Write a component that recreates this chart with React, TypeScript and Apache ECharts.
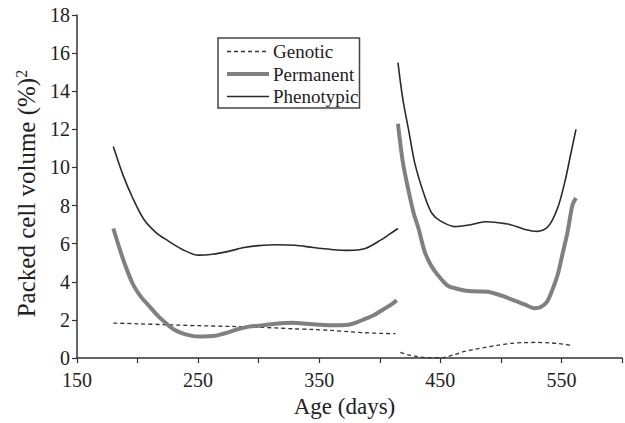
import React, { useEffect, useRef } from "react";
import * as echarts from "echarts";

// Variance components of packed cell volume by age, [age in days, variance]
const genoticEarly: [number, number][] = [
  [180, 1.84], [200, 1.8], [224, 1.75], [250, 1.7], [278, 1.66], [300, 1.62],
  [328, 1.54], [345, 1.5], [360, 1.45], [375, 1.38], [388, 1.33], [400, 1.3], [413, 1.28],
];
const genoticLate: [number, number][] = [
  [417, 0.3], [423, 0.18], [429, 0.1], [440, 0.02], [451, 0.02], [460, 0.15],
  [470, 0.35], [478, 0.46], [487, 0.56], [497, 0.67], [508, 0.77], [518, 0.81],
  [530, 0.82], [540, 0.8], [547, 0.77], [553, 0.72], [558, 0.67],
];
const permanentEarly: [number, number][] = [
  [180, 6.8], [188, 5.2], [196, 3.9], [203, 3.2], [210, 2.7], [217, 2.2], [224, 1.8],
  [230, 1.5], [237, 1.3], [244, 1.18], [251, 1.13], [258, 1.14], [265, 1.18],
  [275, 1.35], [284, 1.54], [292, 1.65], [300, 1.7], [314, 1.8], [328, 1.85],
  [340, 1.8], [350, 1.75], [360, 1.72], [374, 1.75], [382, 1.9], [388, 2.06],
  [395, 2.25], [401, 2.48], [408, 2.75], [414, 3.03],
];
const permanentLate: [number, number][] = [
  [415, 12.3], [419, 10.3], [423, 9.0], [428, 7.6], [432, 6.8], [437, 5.6],
  [442, 4.9], [448, 4.35], [456, 3.8], [463, 3.65], [470, 3.55], [480, 3.5],
  [489, 3.48], [497, 3.35], [503, 3.22], [512, 3.0], [520, 2.8], [528, 2.62],
  [533, 2.68], [538, 2.95], [542, 3.5], [547, 4.4], [551, 5.5], [555, 6.6],
  [559, 8.0], [562, 8.4],
];
const phenotypicEarly: [number, number][] = [
  [180, 11.1], [188, 9.6], [196, 8.4], [205, 7.3], [215, 6.6], [224, 6.2],
  [237, 5.7], [250, 5.4], [262, 5.45], [275, 5.6], [288, 5.8], [300, 5.9],
  [315, 5.95], [330, 5.92], [345, 5.8], [360, 5.7], [374, 5.65], [388, 5.75],
  [401, 6.2], [408, 6.5], [415, 6.8],
];
const phenotypicLate: [number, number][] = [
  [415, 15.5], [419, 13.6], [424, 11.9], [429, 10.2], [437, 8.5], [443, 7.6],
  [450, 7.2], [462, 6.9], [475, 7.0], [487, 7.15], [498, 7.1], [508, 7.0],
  [520, 6.75], [530, 6.65], [539, 6.9], [547, 7.9], [553, 9.3], [558, 10.8],
  [562, 12.0],
];

const seriesNames = ["Genotic", "Permanent", "Phenotypic"];
const xLabelValues = [150, 250, 350, 450, 550];

const FONT = "Liberation Serif";

const GENOTIC_LINE = { color: "#333", width: 1.3, type: [4, 3] };
const PERMANENT_LINE = { color: "#808080", width: 4, type: "solid" };
const PHENOTYPIC_LINE = { color: "#2a2a2a", width: 1.6, type: "solid" };
const lineStyles = [GENOTIC_LINE, PERMANENT_LINE, PHENOTYPIC_LINE];

// Join the two age periods with a break so the line is not drawn across the gap
const joined = (a: [number, number][], b: [number, number][]) => [
  ...a,
  [(a[a.length - 1][0] + b[0][0]) / 2, null],
  ...b,
];

export default function App() {
  const ref = useRef<HTMLDivElement>(null);

  useEffect(() => {
    document.body.style.margin = "0";
    if (!ref.current) return;
    const chart = echarts.init(ref.current, undefined, { renderer: "svg" });
    chart.setOption({
      animation: false,
      backgroundColor: "#ffffff",
      textStyle: { fontFamily: FONT },
      grid: { left: 77, right: 1, top: 15, bottom: 58 },
      legend: {
        data: seriesNames.map((name, i) => ({
          name,
          itemStyle: { opacity: 0 },
          lineStyle: { ...lineStyles[i] },
        })),
        orient: "vertical",
        left: 218,
        top: 38,
        padding: [4, 1, 2, 7],
        itemWidth: 42,
        itemHeight: 14,
        itemGap: 3.5,
        borderColor: "#444",
        borderWidth: 1.5,
        textStyle: {
          fontFamily: FONT,
          fontSize: 19,
          lineHeight: 19,
          color: "#222",
          padding: [0, 0, 0, -1],
        },
      },
      xAxis: {
        type: "value",
        min: 150,
        max: 600,
        interval: 50,
        name: "Age (days)",
        nameLocation: "middle",
        nameGap: 32,
        nameTextStyle: { fontFamily: FONT, fontSize: 23, color: "#222", padding: [0, 10, 0, 0] },
        axisLine: { lineStyle: { color: "#333", width: 1.5 } },
        axisTick: { lineStyle: { color: "#333", width: 1.2 }, length: 5 },
        axisLabel: {
          fontFamily: FONT,
          fontSize: 20,
          color: "#222",
          margin: 12,
          formatter: (v: number) => (xLabelValues.includes(v) ? String(v) : ""),
        },
        splitLine: { show: false },
      },
      yAxis: {
        type: "value",
        min: 0,
        max: 18,
        interval: 2,
        name: "{a|Packed cell volume (%)}{s|2}",
        nameLocation: "middle",
        nameGap: 36,
        nameTextStyle: {
          padding: [0, 14, 0, 0],
          rich: {
            a: { fontFamily: FONT, fontSize: 25, color: "#222" },
            s: { fontFamily: FONT, fontSize: 16, color: "#222", padding: [0, 0, 11, 0] },
          },
        },
        axisLine: { show: true, lineStyle: { color: "#333", width: 1.5 } },
        axisTick: { show: true, lineStyle: { color: "#333", width: 1.2 }, length: 5 },
        axisLabel: { fontFamily: FONT, fontSize: 20, color: "#222", margin: 7 },
        splitLine: { show: false },
      },
      series: [
        {
          name: "Genotic",
          type: "line",
          smooth: 0.3,
          symbol: "none",
          connectNulls: false,
          lineStyle: GENOTIC_LINE,
          itemStyle: { color: GENOTIC_LINE.color },
          data: joined(genoticEarly, genoticLate),
        },
        {
          name: "Permanent",
          type: "line",
          smooth: 0.3,
          symbol: "none",
          connectNulls: false,
          lineStyle: PERMANENT_LINE,
          itemStyle: { color: PERMANENT_LINE.color },
          data: joined(permanentEarly, permanentLate),
        },
        {
          name: "Phenotypic",
          type: "line",
          smooth: 0.3,
          symbol: "none",
          connectNulls: false,
          lineStyle: PHENOTYPIC_LINE,
          itemStyle: { color: PHENOTYPIC_LINE.color },
          data: joined(phenotypicEarly, phenotypicLate),
        },
      ],
    });
    return () => chart.dispose();
  }, []);

  return <div ref={ref} style={{ width: 625, height: 423 }} />;
}
